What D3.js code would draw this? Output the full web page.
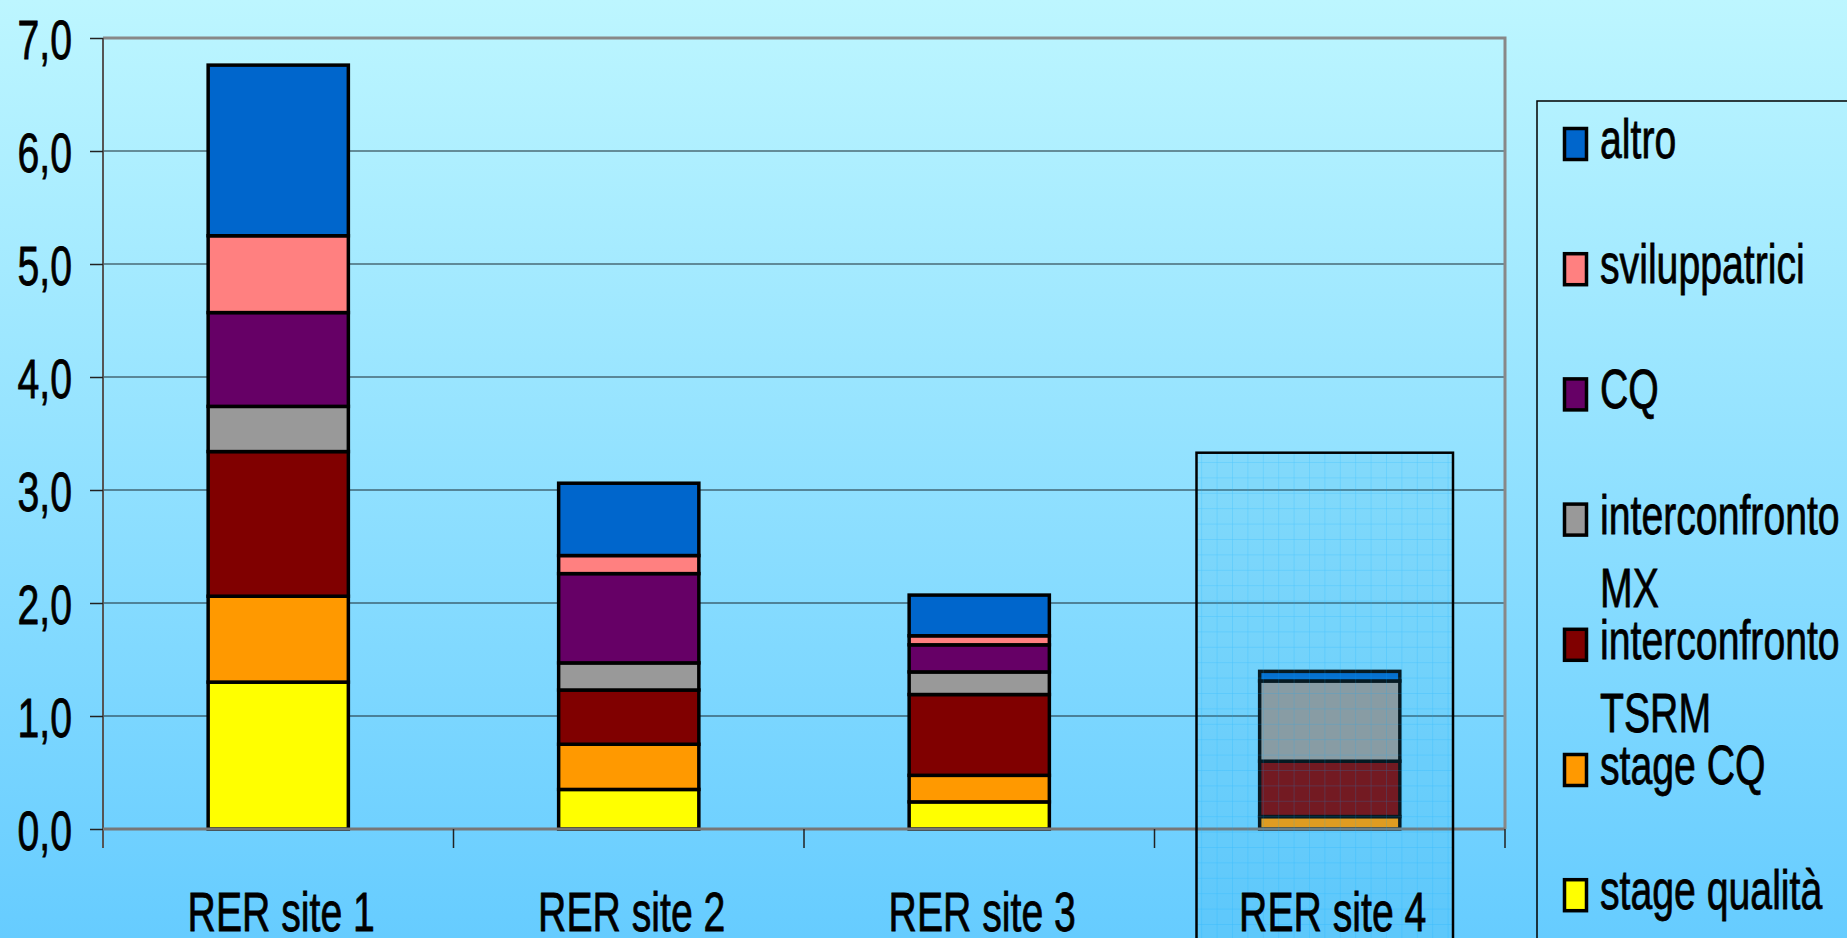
<!DOCTYPE html>
<html>
<head>
<meta charset="utf-8">
<script src="https://cdn.jsdelivr.net/npm/d3@7"></script>
<style>
  html, body { margin: 0; padding: 0; overflow: hidden; }
  body { width: 1847px; height: 938px; }
  text { font-family: "Liberation Sans", Arial, sans-serif; fill: #000; stroke: #000; stroke-width: 0.8px; }
</style>
</head>
<body>
<div class="chart"></div>
<script>
// categories and series (bottom to top of each stack)
const sites = ['RER site 1', 'RER site 2', 'RER site 3', 'RER site 4'];
const seriesNames = ['stage qualità', 'stage CQ', 'interconfronto TSRM', 'interconfronto MX', 'CQ', 'sviluppatrici', 'altro'];
const stageQualita = [1.30, 0.35, 0.24, 0.00];
const stageCQ      = [0.76, 0.40, 0.235, 0.11];
const interTSRM    = [1.28, 0.48, 0.715, 0.49];
const interMX      = [0.40, 0.24, 0.20, 0.71];
const cq           = [0.83, 0.79, 0.24, 0.00];
const sviluppatrici= [0.68, 0.16, 0.08, 0.00];
const altro        = [1.51, 0.64, 0.36, 0.085];
const yTicks = [0, 1, 2, 3, 4, 5, 6, 7];

const colors = ['#ffff00', '#ff9900', '#800000', '#999999', '#660066', '#ff8080', '#0066cc'];
const legendLines = {
  'interconfronto TSRM': ['interconfronto', 'TSRM'],
  'interconfronto MX': ['interconfronto', 'MX']
};

const width = 1847;
const height = 938;
const sx = 0.7; // text is horizontally squeezed in the original

const table = sites.map((s, i) => ({
  site: s,
  'stage qualità': stageQualita[i],
  'stage CQ': stageCQ[i],
  'interconfronto TSRM': interTSRM[i],
  'interconfronto MX': interMX[i],
  'CQ': cq[i],
  'sviluppatrici': sviluppatrici[i],
  'altro': altro[i]
}));

const stacked = d3.stack().keys(seriesNames)(table);

const svg = d3.select('.chart').append('svg')
  .attr('width', width)
  .attr('height', height);

const defs = svg.append('defs');
const bg = defs.append('linearGradient').attr('id', 'bg')
  .attr('x1', 0).attr('y1', 0).attr('x2', 0).attr('y2', 1);
bg.append('stop').attr('offset', '0%').attr('stop-color', '#bdf6ff');
bg.append('stop').attr('offset', '100%').attr('stop-color', '#66ccff');

const pat = defs.append('pattern').attr('id', 'grid')
  .attr('patternUnits', 'userSpaceOnUse')
  .attr('width', 15.4).attr('height', 15.4);
pat.append('rect').attr('width', 15.4).attr('height', 15.4)
  .attr('fill', 'rgba(40,175,225,0.15)');
pat.append('path').attr('d', 'M0,0V15.4M0,0H15.4')
  .attr('stroke', 'rgba(0,170,255,0.35)').attr('stroke-width', 1);

svg.append('rect').attr('width', width).attr('height', height).attr('fill', 'url(#bg)');

const plotLeft = 103, plotRight = 1505, plotTop = 38, plotBottom = 829;

const x = d3.scaleBand()
  .domain(sites)
  .range([plotLeft, plotRight])
  .paddingInner(0.6)
  .paddingOuter(0.3);

const xStep = d3.scaleBand().domain(sites).range([plotLeft, plotRight]);

const y = d3.scaleLinear()
  .domain([0, 7])
  .range([plotBottom, plotTop]);

// gridlines
svg.append('g')
  .selectAll('line')
  .data(yTicks.slice(1, -1))
  .enter()
  .append('line')
  .attr('x1', plotLeft).attr('x2', plotRight)
  .attr('y1', d => y(d)).attr('y2', d => y(d))
  .attr('stroke', '#1a2a33')
  .attr('stroke-width', 1.2);

// plot frame top/right
svg.append('path')
  .attr('d', `M${plotLeft},${plotTop}H${plotRight}V${plotBottom}`)
  .attr('fill', 'none')
  .attr('stroke', '#888')
  .attr('stroke-width', 3);

// bars
svg.append('g')
  .selectAll('g')
  .data(stacked)
  .enter()
  .append('g')
  .attr('fill', (d, i) => colors[i])
  .selectAll('rect')
  .data(d => d.filter(p => p[1] - p[0] > 0))
  .enter()
  .append('rect')
  .attr('x', d => x(d.data.site))
  .attr('width', x.bandwidth())
  .attr('y', d => y(d[1]))
  .attr('height', d => y(d[0]) - y(d[1]))
  .attr('stroke', '#000')
  .attr('stroke-width', 3.5);

// y axis
const yAxis = svg.append('g')
  .attr('transform', `translate(${plotLeft},0)`)
  .call(d3.axisLeft(y).tickValues(yTicks).tickSize(13).tickPadding(18)
    .tickFormat(d => d3.format('.1f')(d).replace('.', ',')));
yAxis.select('.domain').attr('stroke', '#555').attr('stroke-width', 2)
  .attr('d', `M0,${plotTop}V${plotBottom + 19}`);
yAxis.selectAll('.tick line').attr('stroke', '#222').attr('stroke-width', 1.5);
yAxis.selectAll('.tick text')
  .attr('font-size', 56)
  .attr('x', null)
  .attr('dy', null)
  .attr('text-anchor', 'end')
  .attr('transform', `translate(-31,20) scale(${sx},1)`);

// x axis line and ticks
svg.append('line')
  .attr('x1', plotLeft).attr('x2', plotRight)
  .attr('y1', plotBottom).attr('y2', plotBottom)
  .attr('stroke', '#777').attr('stroke-width', 3);

svg.append('g')
  .selectAll('line')
  .data(sites)
  .enter()
  .append('line')
  .attr('x1', d => xStep(d) + xStep.step())
  .attr('x2', d => xStep(d) + xStep.step())
  .attr('y1', plotBottom).attr('y2', plotBottom + 19)
  .attr('stroke', '#222').attr('stroke-width', 1.5);

// selection highlight around site 4
const selX0 = xStep('RER site 4') + 42;
const selX1 = xStep('RER site 4') + xStep.bandwidth() - 52;
svg.append('rect')
  .attr('x', selX0)
  .attr('y', y(3.33))
  .attr('width', selX1 - selX0)
  .attr('height', 600)
  .attr('fill', 'url(#grid)')
  .attr('stroke', '#000')
  .attr('stroke-width', 2.5);

// category labels
svg.append('g')
  .selectAll('text')
  .data(sites)
  .enter()
  .append('text')
  .text(d => d)
  .attr('font-size', 56)
  .attr('text-anchor', 'middle')
  .attr('transform', d => `translate(${x(d) + x.bandwidth() / 2 + 3},931) scale(${sx},1)`);

// legend
svg.append('rect')
  .attr('x', 1537).attr('y', 101)
  .attr('width', 400).attr('height', 900)
  .attr('fill', 'none')
  .attr('stroke', '#000')
  .attr('stroke-width', 1.5);

const legendOrder = seriesNames.slice().reverse();
const legend = svg.append('g')
  .selectAll('g')
  .data(legendOrder)
  .enter()
  .append('g')
  .attr('transform', (d, i) => `translate(1563,${127 + i * 125.2})`);

legend.append('rect')
  .attr('x', 1.5).attr('y', 1.5)
  .attr('width', 22).attr('height', 31)
  .attr('fill', d => colors[seriesNames.indexOf(d)])
  .attr('stroke', '#000')
  .attr('stroke-width', 3.5);

legend.each(function(d) {
  const lines = legendLines[d] || [d];
  d3.select(this).selectAll('text')
    .data(lines)
    .enter()
    .append('text')
    .text(t => t)
    .attr('font-size', 56)
    .attr('transform', (t, j) => `translate(37,${31 + j * 73}) scale(${sx},1)`);
});
</script>
</body>
</html>
